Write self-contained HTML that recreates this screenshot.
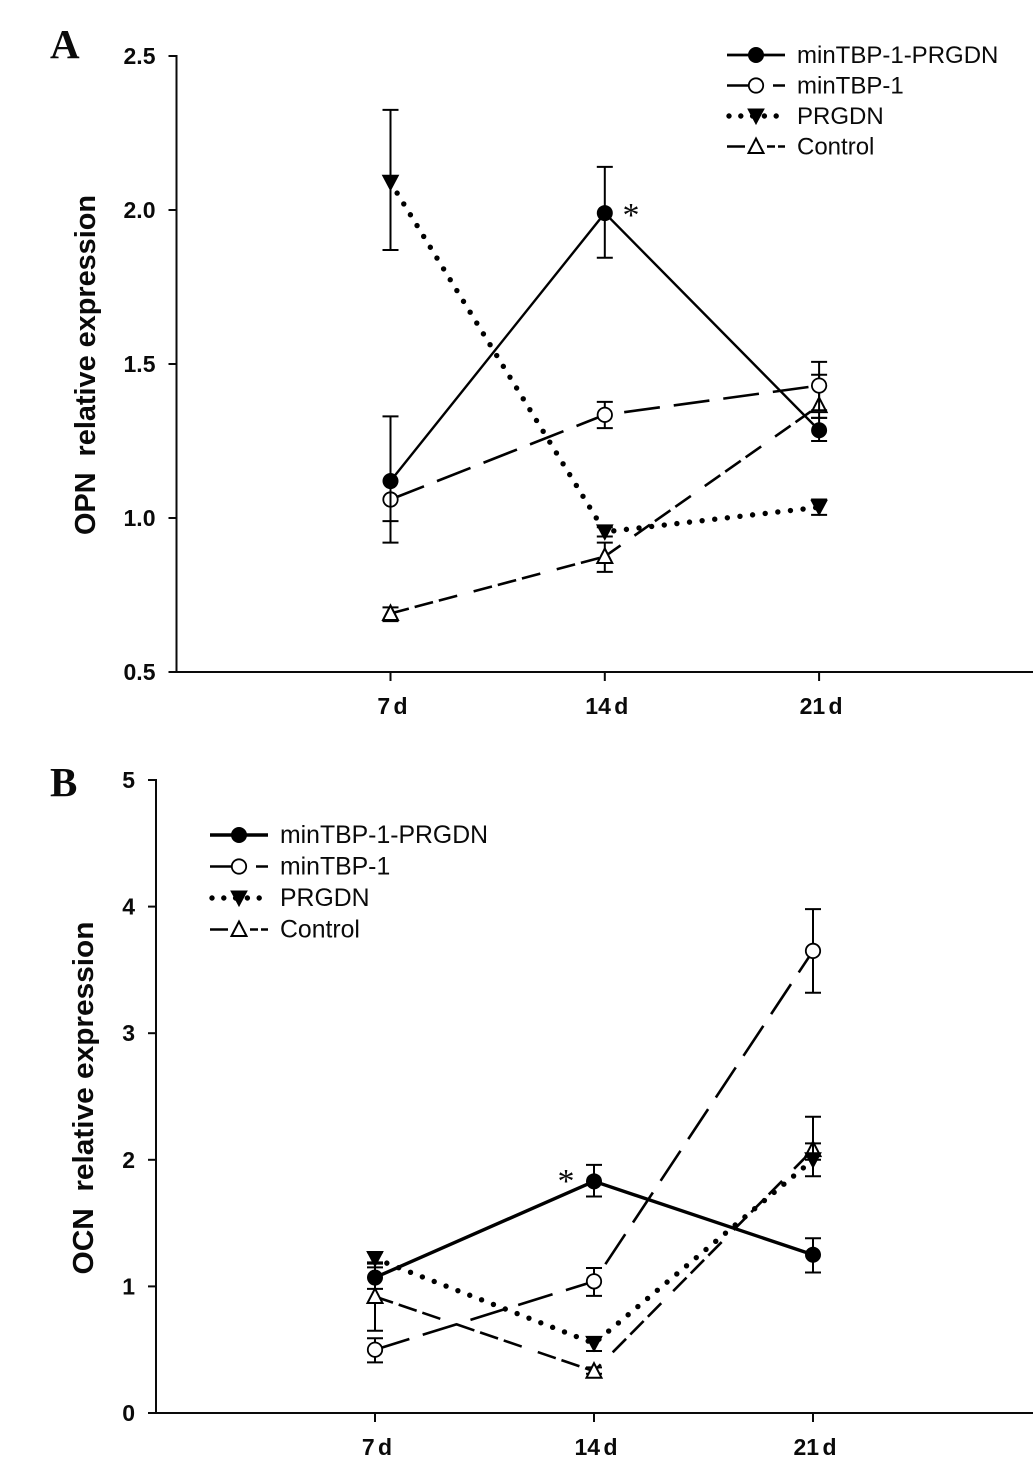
<!DOCTYPE html>
<html lang="en">
<head>
<meta charset="utf-8">
<title>OPN and OCN relative expression</title>
<style>
html,body{margin:0;padding:0;background:#fff;}
#figure{display:block;width:1033px;height:1457px;background:#fff;}
text{font-family:"Liberation Sans",Arial,sans-serif;fill:#0a0a0a;}
.tick{font-weight:bold;font-size:23px;}
.title{font-weight:bold;font-size:29px;}
.legend{font-size:24px;}
.panel{font-family:"Liberation Serif",serif;font-weight:bold;font-size:41px;}
.star{font-family:"Liberation Serif",serif;font-size:34px;}
</style>
</head>
<body>
<svg id="figure" xmlns="http://www.w3.org/2000/svg" width="1033" height="1457" viewBox="0 0 1033 1457">
<text class="panel" x="50" y="58">A</text>
<text class="panel" x="50" y="796">B</text>
<g id="chart-a"></g>
<g id="chart-b"></g>
<text class="star" x="622.5" y="226">*</text>
<text class="star" x="557.5" y="1192">*</text>
</svg>
<script>
const categories = ['7 d', '14 d', '21 d'];
const seriesNames = ['minTBP-1-PRGDN', 'minTBP-1', 'PRGDN', 'Control'];

const opnTicks = ['0.5', '1.0', '1.5', '2.0', '2.5'];
const opnCombo = [1.12, 1.99, 1.285];
const opnCombo_hi = [1.33, 2.14, 1.325];
const opnCombo_lo = [0.99, 1.845, 1.25];
const opnMin = [1.06, 1.335, 1.43];
const opnMin_hi = [1.06, 1.377, 1.507];
const opnMin_lo = [0.92, 1.292, 1.35];
const opnPrgdn = [2.09, 0.955, 1.035];
const opnPrgdn_hi = [2.325, 0.97, 1.06];
const opnPrgdn_lo = [1.87, 0.94, 1.01];
const opnControl = [0.69, 0.875, 1.365];
const opnControl_hi = [0.71, 0.92, 1.465];
const opnControl_lo = [0.665, 0.825, 1.325];

const ocnTicks = ['0', '1', '2', '3', '4', '5'];
const ocnCombo = [1.07, 1.83, 1.25];
const ocnCombo_hi = [1.15, 1.96, 1.38];
const ocnCombo_lo = [0.98, 1.71, 1.11];
const ocnMin = [0.5, 1.04, 3.65];
const ocnMin_hi = [0.59, 1.145, 3.98];
const ocnMin_lo = [0.4, 0.925, 3.32];
const ocnPrgdn = [1.22, 0.55, 2.0];
const ocnPrgdn_hi = [1.27, 0.6, 2.13];
const ocnPrgdn_lo = [1.18, 0.49, 1.87];
const ocnControl = [0.92, 0.33, 2.08];
const ocnControl_hi = [1.19, 0.36, 2.34];
const ocnControl_lo = [0.65, 0.31, 2.0];

const NS = 'http://www.w3.org/2000/svg';

function make(parent, tag, attrs) {
  const el = document.createElementNS(NS, tag);
  for (const k in attrs) el.setAttribute(k, attrs[k]);
  parent.appendChild(el);
  return el;
}

function drawMarker(parent, kind, x, y, slug) {
  let el;
  if (kind === 'filled-circle') {
    el = make(parent, 'circle', {cx: x, cy: y, r: 8, fill: '#000'});
  } else if (kind === 'open-circle') {
    el = make(parent, 'circle', {cx: x, cy: y, r: 7.2, fill: '#fff', stroke: '#000', 'stroke-width': 1.8});
  } else if (kind === 'down-triangle') {
    el = make(parent, 'path', {d: 'M' + (x - 8) + ' ' + (y - 7) + 'H' + (x + 8) + 'L' + x + ' ' + (y + 8) + 'Z', fill: '#000', stroke: '#000', 'stroke-width': 1});
  } else {
    el = make(parent, 'path', {d: 'M' + x + ' ' + (y - 8) + 'L' + (x + 7.5) + ' ' + (y + 6.5) + 'H' + (x - 7.5) + 'Z', fill: '#fff', stroke: '#000', 'stroke-width': 2});
  }
  
  
}

const seriesStyles = [
  {slug: 'mintbp-1-prgdn', marker: 'filled-circle', dash: null, cap: 'butt', width: 2.4},
  {slug: 'mintbp-1', marker: 'open-circle', dash: '36 14', cap: 'butt', width: 2.6},
  {slug: 'prgdn', marker: 'down-triangle', dash: '0 12.7', cap: 'round', width: 5.4},
  {slug: 'control', marker: 'open-triangle-up', dash: '19 6 19 6 19 17', cap: 'butt', width: 2.6}
];

function drawChart(root, cfg) {
  const yOf = v => cfg.yBase - (v - cfg.yMin) * cfg.yScale;
  const xOf = i => cfg.x0 + i * cfg.xStep;

  const axes = make(root, 'path', {d: 'M' + (cfg.axisX - 8) + ' ' + cfg.yTop + 'H' + cfg.axisX + 'V' + cfg.yBase + 'H1033', fill: 'none', stroke: '#0a0a0a', 'stroke-width': 2});
  
  

  cfg.ticks.forEach(t => {
    const yy = yOf(parseFloat(t));
    const tick = make(root, 'line', {x1: cfg.axisX - 8, x2: cfg.axisX, y1: yy, y2: yy, stroke: '#0a0a0a', 'stroke-width': 2});
    
    
    const label = make(root, 'text', {x: cfg.axisX - 21, y: yy + 8, 'text-anchor': 'end', class: 'tick'});
    label.textContent = t;
    
    
  });

  categories.forEach((c, i) => {
    const tick = make(root, 'line', {x1: xOf(i), x2: xOf(i), y1: cfg.yBase, y2: cfg.yBase + 9, stroke: '#0a0a0a', 'stroke-width': 2});
    
    
    const label = make(root, 'text', {x: xOf(i) + 2, y: cfg.yBase + 42, 'text-anchor': 'middle', class: 'tick', 'word-spacing': '-3'});
    label.textContent = c;
    
    
  });

  const title = make(root, 'text', {transform: 'translate(' + cfg.titleX + ' ' + cfg.titleY + ') rotate(-90)', 'text-anchor': 'middle', class: 'title', textLength: cfg.titleLength, lengthAdjust: 'spacingAndGlyphs'});
  title.textContent = cfg.title;
  
  

  const order = [3, 2, 1, 0];
  order.forEach(si => {
    const st = seriesStyles[si];
    const s = cfg.series[si];
    const g = make(root, 'g', {});
    
    
    s.mean.forEach((m, i) => {
      const xx = xOf(i), hi = yOf(s.hi[i]), lo = yOf(s.lo[i]);
      const err = make(g, 'path', {d: 'M' + xx + ' ' + hi + 'V' + lo + 'M' + (xx - 8) + ' ' + hi + 'H' + (xx + 8) + 'M' + (xx - 8) + ' ' + lo + 'H' + (xx + 8), fill: 'none', stroke: '#000', 'stroke-width': 2});
      
      
    });
    const pts = s.mean.map((m, i) => xOf(i) + ',' + yOf(m)).join(' ');
    const attrs = {points: pts, fill: 'none', stroke: '#000', 'stroke-width': si === 0 ? cfg.solidWidth : st.width, 'stroke-linecap': st.cap, 'stroke-linejoin': 'miter'};
    if (st.dash) attrs['stroke-dasharray'] = st.dash;
    const line = make(g, 'polyline', attrs);
    
    
    s.mean.forEach((m, i) => drawMarker(g, st.marker, xOf(i), yOf(m), st.slug));
  });

  const legend = make(root, 'g', {});
  
  
  seriesStyles.forEach((st, i) => {
    const yy = cfg.legendY + i * cfg.legendStep;
    const lx = cfg.legendX;
    const entry = make(legend, 'g', {});
    
    
    const attrs = {x1: i === 2 ? lx + 2 : lx, x2: lx + 58, y1: yy, y2: yy, stroke: '#000', 'stroke-width': i === 2 ? 5.4 : (i === 0 ? cfg.legendSolid : 2.6), 'stroke-linecap': st.cap};
    if (i === 1) attrs['stroke-dasharray'] = '26 20 12 20';
    if (i === 2) attrs['stroke-dasharray'] = '0 11.8';
    if (i === 3) attrs['stroke-dasharray'] = '18 22 8 3 8 20';
    make(entry, 'line', attrs);
    drawMarker(entry, st.marker, lx + 29, yy, 'legend-' + st.slug);
    const label = make(entry, 'text', {x: lx + 70, y: yy + 8, class: 'legend', style: 'font-size:' + cfg.legendFont + 'px'});
    label.textContent = seriesNames[i];
  });
}

drawChart(document.getElementById('chart-a'), {
  axisX: 176.5, yTop: 56, yBase: 672, yMin: 0.5, yScale: 308, x0: 390.5, xStep: 214.3,
  ticks: opnTicks, title: 'OPN\u00a0\u00a0relative expression', titleX: 95, titleY: 365, titleLength: 340,
  legendX: 727, legendY: 55, legendStep: 30.5, solidWidth: 2.4, legendFont: 24, legendSolid: 2.8,
  series: [
    {mean: opnCombo, hi: opnCombo_hi, lo: opnCombo_lo},
    {mean: opnMin, hi: opnMin_hi, lo: opnMin_lo},
    {mean: opnPrgdn, hi: opnPrgdn_hi, lo: opnPrgdn_lo},
    {mean: opnControl, hi: opnControl_hi, lo: opnControl_lo}
  ]
});

drawChart(document.getElementById('chart-b'), {
  axisX: 156, yTop: 780, yBase: 1413, yMin: 0, yScale: 126.6, x0: 375, xStep: 219,
  ticks: ocnTicks, title: 'OCN\u00a0\u00a0relative expression', titleX: 93, titleY: 1098, titleLength: 353,
  legendX: 210, legendY: 835, legendStep: 31.5, solidWidth: 3.4, legendFont: 24.8, legendSolid: 3.4,
  series: [
    {mean: ocnCombo, hi: ocnCombo_hi, lo: ocnCombo_lo},
    {mean: ocnMin, hi: ocnMin_hi, lo: ocnMin_lo},
    {mean: ocnPrgdn, hi: ocnPrgdn_hi, lo: ocnPrgdn_lo},
    {mean: ocnControl, hi: ocnControl_hi, lo: ocnControl_lo}
  ]
});
</script>
</body>
</html>
